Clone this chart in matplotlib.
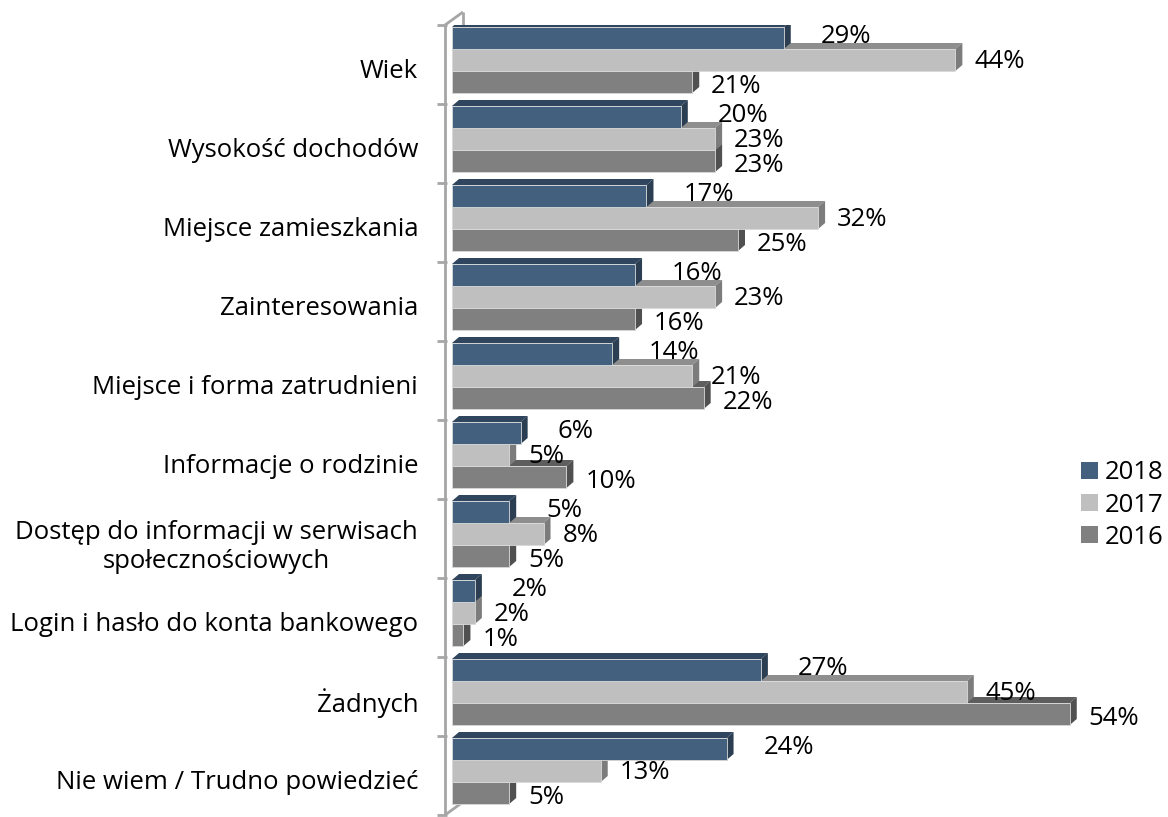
import matplotlib
matplotlib.use("Agg")
import matplotlib.pyplot as plt
from matplotlib.patches import Polygon, Patch
import numpy as np

plt.rcParams["font.family"] = ["Open Sans", "DejaVu Sans"]

CATEGORIES = [
    "Wiek",
    "Wysokość dochodów",
    "Miejsce zamieszkania",
    "Zainteresowania",
    "Miejsce i forma zatrudnieni",
    "Informacje o rodzinie",
    "Dostęp do informacji w serwisach\nspołecznościowych",
    "Login i hasło do konta bankowego",
    "Żadnych",
    "Nie wiem / Trudno powiedzieć",
]
SERIES = ["2018", "2017", "2016"]
V2018 = [29, 20, 17, 16, 14, 6, 5, 2, 27, 24]
V2017 = [44, 23, 32, 23, 21, 5, 8, 2, 45, 13]
V2016 = [21, 23, 25, 16, 22, 10, 5, 1, 54, 5]
VALUES = [V2018, V2017, V2016]

# front, top, side colours per series
FRONT = ["#43617e", "#bfbfbf", "#808080"]
TOP = ["#2f465e", "#8e8e8e", "#5e5e5e"]
SIDE = ["#2b3e52", "#7c7c7c", "#505050"]
LABEL_PAD_PX = [30, 12, 12]

FS = 18.5
W, H, DPI = 1168, 817, 100
PX_PER_UNIT = 11.44          # pixels per percentage point
X0_PX = 452                  # pixel of value 0
XMIN = -1.5
XMAX = (1168 - X0_PX) / PX_PER_UNIT
BAND_PX = 79.0

fig = plt.figure(figsize=(W / DPI, H / DPI), dpi=DPI)
left = (X0_PX + XMIN * PX_PER_UNIT) / W
ax = fig.add_axes([left, 2 / H, 1 - left, 790 / H])
ax.set_xlim(XMIN, XMAX)
ax.set_ylim(9.5, -0.5)
for s in ax.spines.values():
    s.set_visible(False)
ax.set_xticks([])

n = len(CATEGORIES)
y = np.arange(n)
bar_h = 22 / BAND_PX
group_shift = -4.5 / BAND_PX
ddx = 7 / PX_PER_UNIT
ddy = 6 / BAND_PX

# draw lower bars first so the upper ones cover their top faces
for j in reversed(range(3)):
    yc = y + group_shift + (j - 1) * bar_h
    vals = np.array(VALUES[j])
    ax.barh(yc, vals, height=bar_h, color=FRONT[j], edgecolor="#d9d9d9",
            linewidth=0.6, zorder=3 + (3 - j) * 0.01)
    for k in range(n):
        yt = yc[k] - bar_h / 2
        yb = yc[k] + bar_h / 2
        x1 = vals[k]
        z = 3 + (3 - j) * 0.01 - 0.005
        ax.add_patch(Polygon([(0, yt), (ddx, yt - ddy), (x1 + ddx, yt - ddy), (x1, yt)],
                             closed=True, facecolor=TOP[j], edgecolor="none", zorder=z))
        ax.add_patch(Polygon([(x1, yt), (x1 + ddx, yt - ddy), (x1 + ddx, yb - ddy), (x1, yb)],
                             closed=True, facecolor=SIDE[j], edgecolor="none", zorder=z))

# data labels
for j in range(3):
    for k in range(n):
        v = VALUES[j][k]
        ly = y[k] + group_shift + (j - 1) * bar_h * 1.15 + 1.5 / BAND_PX
        ax.text(v + ddx + LABEL_PAD_PX[j] / PX_PER_UNIT, ly, f"{v}%", ha="left",
                va="center", fontsize=FS, color="black", zorder=10, clip_on=False)

# 3D wall lines
wx = -7 / PX_PER_UNIT
bx = wx + 18 / PX_PER_UNIT
by = 13 / BAND_PX
wall = dict(color="#a6a6a6", lw=2, clip_on=False, zorder=2, solid_capstyle="butt")
ax.plot([wx, wx], [-0.5, 9.5], **wall)
ax.plot([wx, bx], [-0.5, -0.5 - by], **wall)
ax.plot([bx, bx], [-0.5 - by, -0.3], **wall)
ax.plot([wx, bx], [9.5, 9.5 - by], **wall)
for b in np.arange(-0.5, 9.6, 1.0):
    ax.plot([wx - 8 / PX_PER_UNIT, wx + 2 / PX_PER_UNIT], [b, b], **wall)

ax.set_yticks(y + 0.05)
ax.set_yticklabels(CATEGORIES, fontsize=FS, multialignment="center")
ax.tick_params(axis="y", length=0, pad=12)

handles = [Patch(facecolor=FRONT[j], edgecolor="none") for j in range(3)]
fig.legend(handles, SERIES, loc="center left", bbox_to_anchor=(1058 / W, 1 - 505 / H),
           frameon=False, fontsize=FS, handlelength=0.65, handleheight=0.65,
           handletextpad=0.25, labelspacing=0.28)

fig.savefig("out.png", dpi=DPI)
